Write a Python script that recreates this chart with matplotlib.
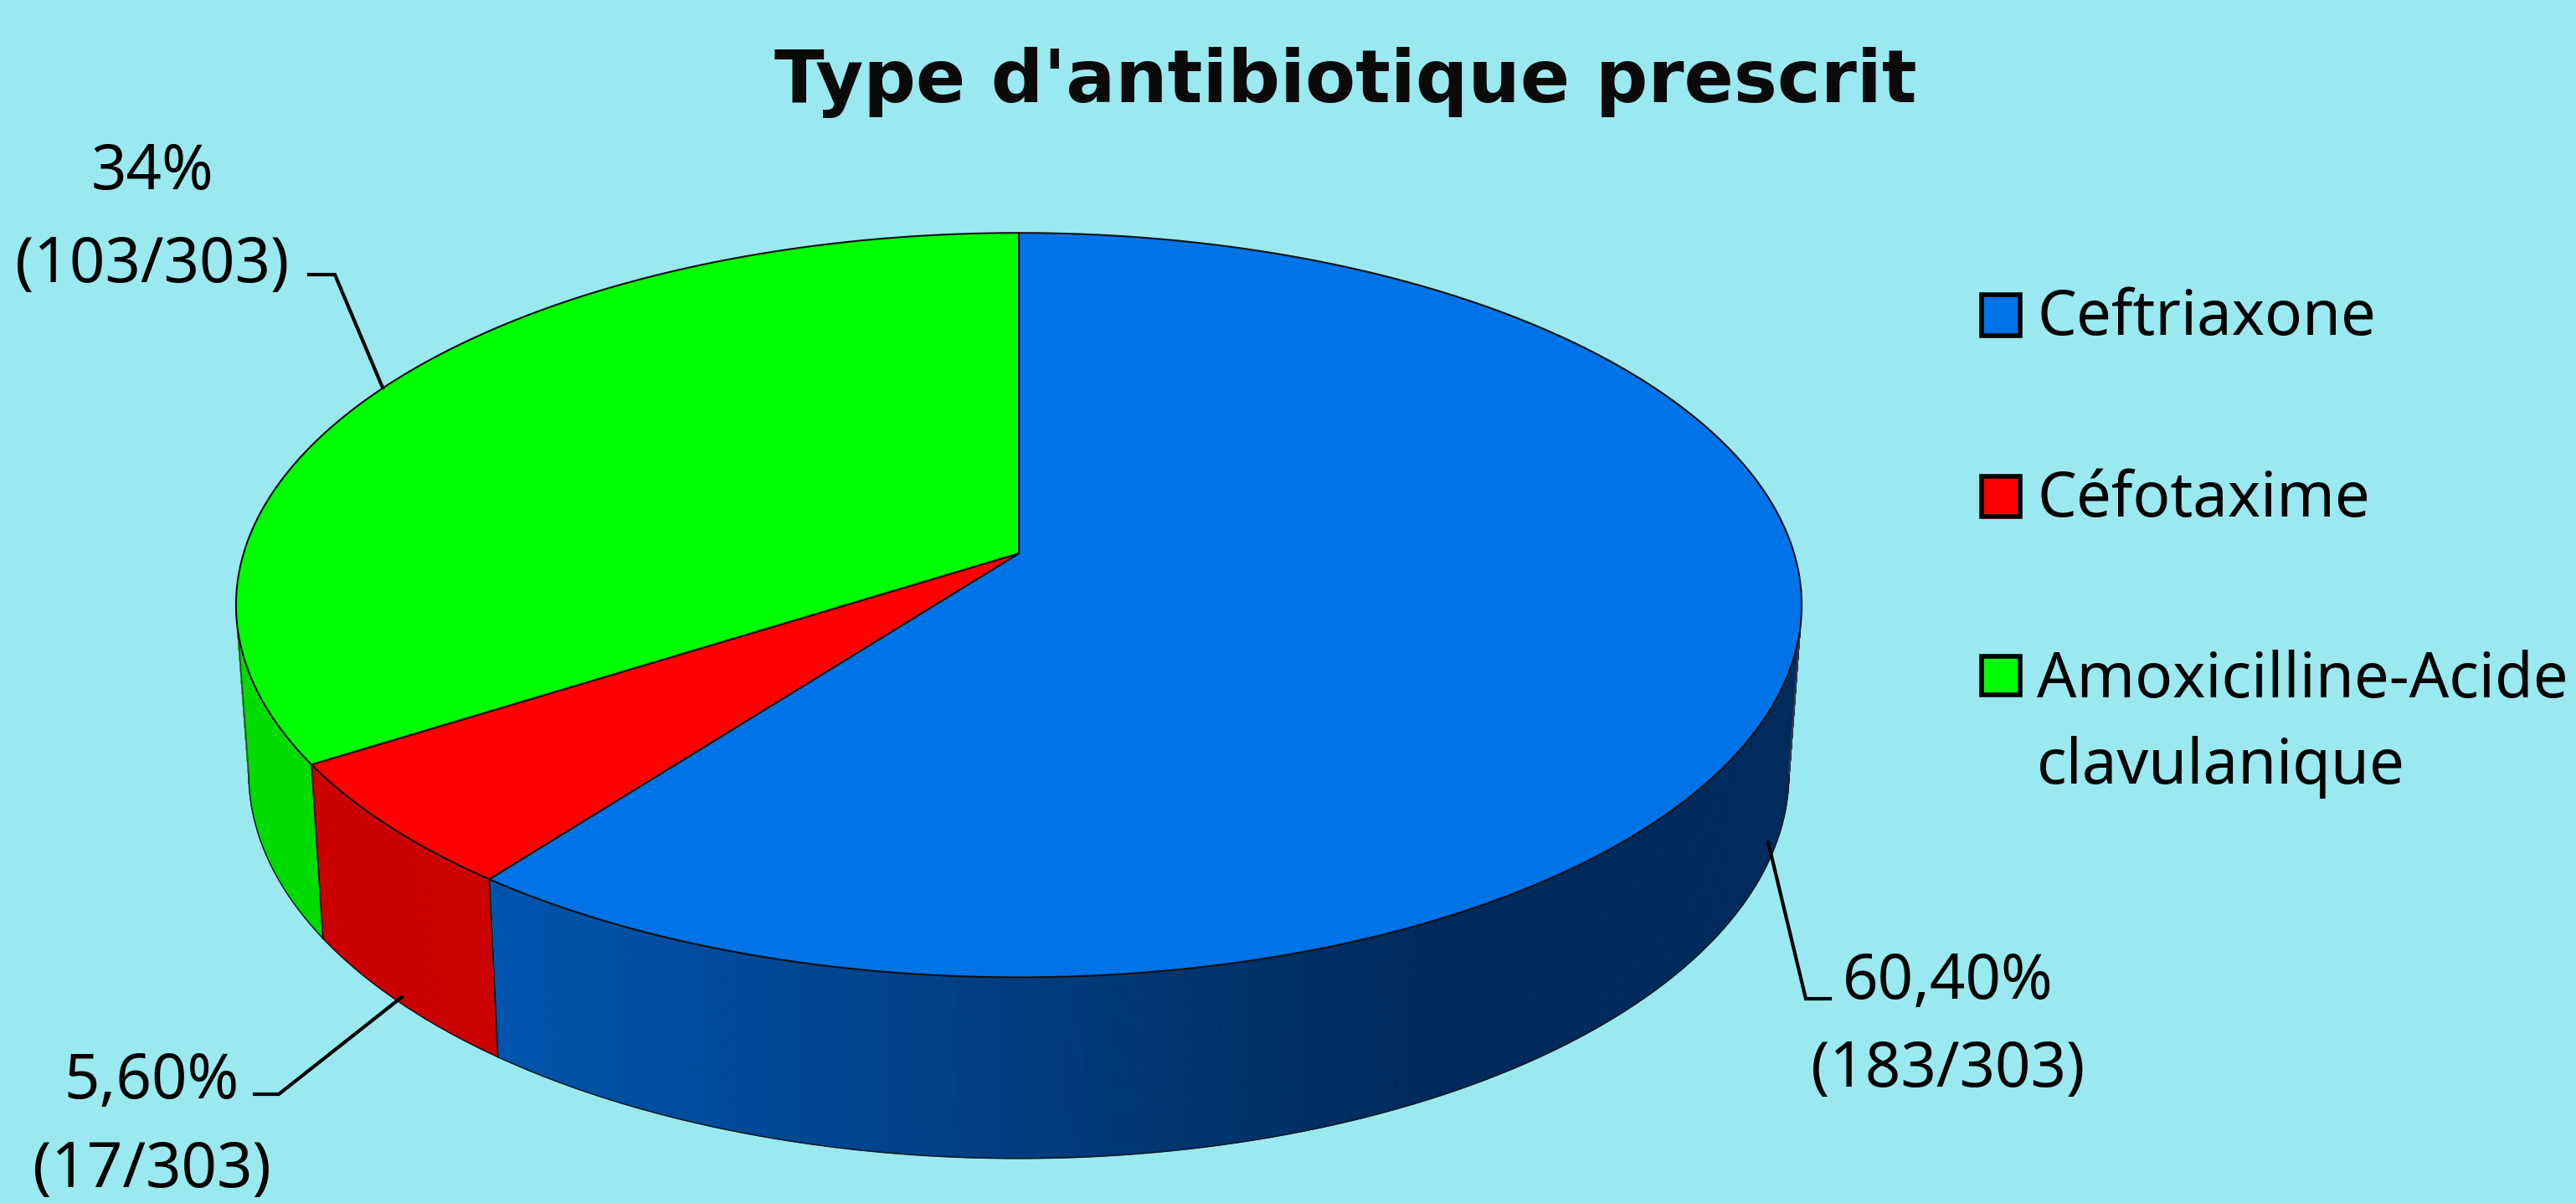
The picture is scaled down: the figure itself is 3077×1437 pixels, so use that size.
import numpy as np
import matplotlib
matplotlib.use("Agg")
import matplotlib.pyplot as plt
from matplotlib.collections import PolyCollection
from matplotlib.patches import Polygon, Rectangle

# ---- data ----
categories = ["Ceftriaxone", "Céfotaxime", "Amoxicilline-Acide\nclavulanique"]
counts = [183, 17, 103]
pct_labels = ["60,40%", "5,60%", "34%"]
frac_labels = ["(183/303)", "(17/303)", "(103/303)"]
title = "Type d'antibiotique prescrit"

# ---- style ----
BG = "#9AE9F0"
TOP = ["#0073E6", "#FF0000", "#00FF00"]
FONT = "Noto Sans"

W, H = 3077, 1437
fig = plt.figure(figsize=(W / 100, H / 100), dpi=100, facecolor=BG)
ax = fig.add_axes([0, 0, 1, 1])
ax.set_xlim(0, W)
ax.set_ylim(H, 0)
ax.axis("off")

K = 0.139
CX = 1217


def top_pt(t):
    d = 1 + K * np.cos(t)
    return CX + 926 * np.sin(t) / d, 661 - 436 * np.cos(t) / d


def bot_pt(t):
    d = 1 + K * np.cos(t)
    return CX + 911 * np.sin(t) / d, 860 - 451 * np.cos(t) / d


total = sum(counts)
edges = np.concatenate([[0], np.cumsum(counts)]) / total * 2 * np.pi
# the side wall is visible between the two horizontal extremes of the rim
VIS0 = np.arccos(-K)
VIS1 = 2 * np.pi - VIS0


def wall_color(i, x):
    if i == 1:
        return (0.80, 0.0, 0.0)
    if i == 2:
        return (0.0, 0.86, 0.0)
    # blue side darkens towards the right, then stays flat
    u = np.clip((x - 590) / (1700 - 590), 0, 1)
    c0 = np.array([0, 0x55, 0xAE]) / 255
    c1 = np.array([0, 0x2A, 0x5B]) / 255
    return tuple(c0 + (c1 - c0) * u)


LW = 1.5
for i in range(3):
    a0, a1 = edges[i], edges[i + 1]
    lo = max(a0, VIS0)
    hi = min(a1, VIS1)
    ts = np.linspace(lo, hi, 220)
    xt, yt = top_pt(ts)
    xb, yb = bot_pt(ts)
    quads = []
    cols = []
    for j in range(len(ts) - 1):
        quads.append([(xt[j], yt[j]), (xt[j + 1], yt[j + 1]),
                      (xb[j + 1], yb[j + 1]), (xb[j], yb[j])])
        cols.append(wall_color(i, (xt[j] + xb[j]) / 2))
    ax.add_collection(PolyCollection(quads, facecolors=cols, edgecolors=cols,
                                     linewidths=0.6, zorder=2))
    ax.plot(xb, yb, color="#101820", lw=LW * 0.7, zorder=3)
    # wall seams and the two silhouette edges
    ax.plot([xt[-1], xb[-1]], [yt[-1], yb[-1]], color="black" if i < 2 else "#404040",
            lw=LW * 0.8, zorder=3)
    if i == 0:
        ax.plot([xt[0], xb[0]], [yt[0], yb[0]], color="#404040", lw=LW * 0.8, zorder=3)

# top faces
for i in range(3):
    ts = np.linspace(edges[i], edges[i + 1], 400)
    xt, yt = top_pt(ts)
    pts = np.column_stack([np.r_[CX, xt], np.r_[661, yt]])
    ax.add_patch(Polygon(pts, closed=True, facecolor=TOP[i], edgecolor="#101010",
                         lw=LW, joinstyle="round", zorder=4))

# leader lines
leaders = [
    ([2112, 2157, 2186], [1006, 1193, 1193]),
    ([480, 333, 304], [1191, 1307, 1307]),
    ([457, 400, 369], [463, 328, 328]),
]
for xs, ys in leaders:
    ax.plot(xs, ys, color="black", lw=3.0, solid_joinstyle="miter", zorder=5)

# data labels
FS = 53.5
label_pos = [(2327, 1193, 1298), (181, 1312, 1418), (182, 226, 337)]
for (x, y1, y2), p, f in zip(label_pos, pct_labels, frac_labels):
    ax.text(x, y1, p, ha="center", va="baseline", fontsize=FS, family=FONT, color="black", zorder=6)
    ax.text(x, y2, f, ha="center", va="baseline", fontsize=FS, family=FONT, color="black", zorder=6)

# legend
sq_y = [(349, 404), (566, 620), (781, 833)]
baselines = [400, 617, 833]
for (y0, y1), b, c, name in zip(sq_y, baselines, TOP, categories):
    ax.add_patch(Rectangle((2367, y0 + 3), 46, y1 - y0 - 6, facecolor=c, edgecolor="black", lw=4, zorder=5))
    for k, line in enumerate(name.split("\n")):
        ax.text(2433, b + k * 103, line, ha="left", va="baseline", fontsize=FS, family=FONT,
                color="black", zorder=6)

# title
ax.text(1607, 122, title, ha="center", va="baseline", fontsize=63, family="DejaVu Sans",
        fontweight="bold", color="#0A0A0A", zorder=6)

fig.savefig("out.png", dpi=100, facecolor=BG)
